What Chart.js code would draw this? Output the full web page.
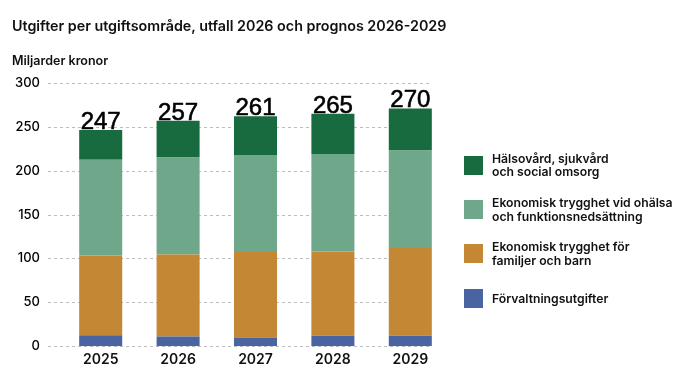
<!DOCTYPE html>
<html>
<head>
<meta charset="utf-8">
<script src="https://cdn.jsdelivr.net/npm/chart.js@4"></script>
<style>
  html, body { margin: 0; padding: 0; background: #fff; }
  #wrap { position: relative; width: 700px; height: 376px; overflow: hidden; font-family: Inter, "Liberation Sans", sans-serif; color: #111; }
  #chart { position: absolute; left: 0; top: 0; }
  #title { position: absolute; left: 12px; top: 17px; font-size: 14.3px; font-weight: 600; white-space: nowrap; }
  #unit { position: absolute; left: 12px; top: 53px; font-size: 12.5px; font-weight: 600; white-space: nowrap; }
  #legend { position: absolute; left: 464px; top: 143px; }
  .item { display: flex; align-items: center; height: 44.4px; }
  .box { width: 19px; height: 19px; flex: none; margin-right: 9px; }
  .txt { font-size: 12.2px; font-weight: 600; line-height: 13.5px; }
</style>
</head>
<body>
<div id="wrap">
  <canvas id="chart" width="700" height="376"></canvas>
  <div id="title">Utgifter per utgiftsområde, utfall 2026 och prognos 2026-2029</div>
  <div id="unit">Miljarder kronor</div>
  <div id="legend"></div>
</div>
<script>
// categories and values (miljarder kronor)
const years = ["2025", "2026", "2027", "2028", "2029"];
const forvaltning = [12.5, 11, 10, 12, 12];
const familjer = [91, 93.5, 97.5, 96, 100];
const ohalsa = [109, 110.5, 110.5, 111, 111];
const halsovard = [34, 42, 44, 46, 48];
const totals = [247, 257, 261, 265, 270];
const yTicks = [0, 50, 100, 150, 200, 250, 300];

const seriesNames = [
  ["Förvaltningsutgifter"],
  ["Ekonomisk trygghet för", "familjer och barn"],
  ["Ekonomisk trygghet vid ohälsa", "och funktionsnedsättning"],
  ["Hälsovård, sjukvård", "och social omsorg"]
];
const seriesColors = ["#4a64a2", "#c48733", "#6fa78a", "#176b3f"];
const seriesData = [forvaltning, familjer, ohalsa, halsovard];

// dashed grid lines, from just right of the tick labels to the last bar
const gridPlugin = {
  id: "dashGrid",
  beforeDatasetsDraw(chart) {
    const ctx = chart.ctx, y = chart.scales.y, area = chart.chartArea;
    const meta = chart.getDatasetMeta(0);
    const last = meta.data[meta.data.length - 1];
    const x0 = area.left - 14;
    const x1 = last.x + last.width / 2;
    ctx.save();
    ctx.strokeStyle = "#bdbdbd";
    ctx.lineWidth = 1;
    ctx.setLineDash([3, 3]);
    yTicks.forEach(v => {
      const py = Math.round(y.getPixelForValue(v)) + 0.5;
      ctx.beginPath();
      ctx.moveTo(x0, py);
      ctx.lineTo(x1, py);
      ctx.stroke();
    });
    ctx.restore();
  }
};

// totals above the stacks
const totalPlugin = {
  id: "totals",
  afterDatasetsDraw(chart) {
    const ctx = chart.ctx;
    const top = chart.getDatasetMeta(chart.data.datasets.length - 1);
    ctx.save();
    ctx.font = "24px 'Liberation Sans', Arial, sans-serif";
    ctx.fillStyle = "#000";
    ctx.strokeStyle = "#000";
    ctx.lineWidth = 0.6;
    ctx.textAlign = "center";
    ctx.textBaseline = "alphabetic";
    top.data.forEach((bar, i) => {
      ctx.fillText(String(totals[i]), bar.x, bar.y - 1);
      ctx.strokeText(String(totals[i]), bar.x, bar.y - 1);
    });
    ctx.restore();
  }
};

const datasets = seriesData.map((d, i) => ({
  label: seriesNames[i].join(" "),
  data: d,
  backgroundColor: seriesColors[i],
  borderWidth: 0,
  categoryPercentage: 1,
  barPercentage: 0.556
}));

new Chart(document.getElementById("chart"), {
  type: "bar",
  data: { labels: years, datasets: datasets },
  plugins: [gridPlugin, totalPlugin],
  options: {
    responsive: false,
    animation: false,
    layout: { padding: { left: 0, right: 251, top: 83, bottom: 0 } },
    scales: {
      x: {
        stacked: true,
        grid: { display: false, drawTicks: false },
        border: { display: false },
        ticks: {
          color: "#111",
          padding: 5,
          font: { family: "Inter", size: 14, weight: "600" }
        },
        afterFit(scale) { scale.height = 29; }
      },
      y: {
        stacked: true,
        min: 0,
        max: 300,
        grid: { display: false, drawTicks: false },
        border: { display: false },
        ticks: {
          stepSize: 50,
          color: "#000",
          padding: 22,
          font: { family: "Inter", size: 13, weight: "500" }
        },
        afterFit(scale) { scale.width = 62; }
      }
    },
    plugins: {
      legend: { display: false },
      tooltip: { enabled: false },
      title: { display: false }
    }
  }
});

// legend, top entry is the top of the stack
let html = "";
for (let i = seriesNames.length - 1; i >= 0; i--) {
  html += `<div class="item"><div class="box" style="background:${seriesColors[i]}"></div>
           <div class="txt">${seriesNames[i].join("<br>")}</div></div>`;
}
document.getElementById("legend").innerHTML = html;
</script>
</body>
</html>
